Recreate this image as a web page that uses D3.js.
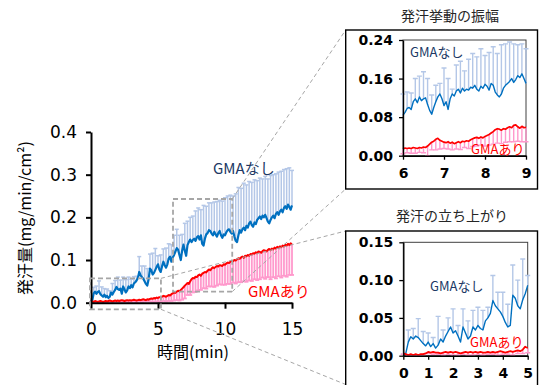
<!DOCTYPE html>
<html>
<head>
<meta charset="utf-8">
<script src="https://cdn.jsdelivr.net/npm/d3@7"></script>
<style>
  body { margin: 0; background: #fff; }
  text { font-family: "Noto Sans CJK JP", "Noto Sans", sans-serif; }
</style>
</head>
<body>
<div id="chart"></div>
<script>
// ---- main chart: 0-15 min, mean every 0.1 min, SD every 0.2 min ----
const mainStep = 0.1;
const mainErrStep = 0.2;
const mainTicksX = [0, 5, 10, 15];
const mainTicksY = [0, 0.1, 0.2, 0.3, 0.4];

const mainNoGma = [
  0.002, 0.006, 0.022, 0.026, 0.021, 0.025, 0.027, 0.020, 0.017, 0.014,
  0.019, 0.013, 0.016, 0.011, 0.014, 0.024, 0.019, 0.025, 0.030, 0.037,
  0.032, 0.030, 0.033, 0.021, 0.038, 0.031, 0.024, 0.029, 0.038, 0.034,
  0.041, 0.036, 0.045, 0.048, 0.052, 0.058, 0.072, 0.064, 0.060, 0.056,
  0.050, 0.044, 0.040, 0.055, 0.080, 0.076, 0.066, 0.070, 0.077, 0.084,
  0.090, 0.078, 0.072, 0.085, 0.096, 0.088, 0.082, 0.090, 0.104, 0.108,
  0.096, 0.106, 0.112, 0.120, 0.128, 0.124, 0.112, 0.100, 0.122, 0.136,
  0.122, 0.110, 0.135, 0.142, 0.148, 0.142, 0.147, 0.150, 0.145, 0.153,
  0.156, 0.148, 0.158, 0.138, 0.134, 0.150, 0.160, 0.163, 0.170, 0.168,
  0.162, 0.158, 0.166, 0.160, 0.155, 0.163, 0.168, 0.158, 0.152, 0.160,
  0.158, 0.165, 0.170, 0.172, 0.166, 0.162, 0.168, 0.155, 0.145, 0.142,
  0.158, 0.170, 0.164, 0.172, 0.176, 0.170, 0.180, 0.176, 0.186, 0.190,
  0.182, 0.178, 0.188, 0.184, 0.194, 0.198, 0.202, 0.196, 0.204, 0.200,
  0.206, 0.198, 0.190, 0.186, 0.194, 0.200, 0.204, 0.198, 0.208, 0.212,
  0.206, 0.214, 0.218, 0.212, 0.222, 0.226, 0.220, 0.230, 0.224, 0.218,
  0.228
];
const mainNoGmaSd = [
  0.000, 0.014, 0.018, 0.024, 0.020, 0.014, 0.016, 0.014, 0.026, 0.022,
  0.028, 0.020, 0.022, 0.030, 0.022, 0.014, 0.016, 0.010, 0.036, 0.026,
  0.036, 0.040, 0.034, 0.050, 0.050, 0.020, 0.040, 0.030, 0.046, 0.034,
  0.040, 0.046, 0.044, 0.046, 0.038, 0.064, 0.056, 0.052, 0.056, 0.070,
  0.066, 0.060, 0.094, 0.066, 0.064, 0.072, 0.070, 0.082, 0.072, 0.086,
  0.088, 0.080, 0.086, 0.082, 0.110, 0.112, 0.104, 0.104, 0.096, 0.098,
  0.100, 0.100, 0.092, 0.090, 0.086, 0.090, 0.100, 0.104, 0.096, 0.094,
  0.100, 0.090, 0.090, 0.094, 0.092, 0.082
];
const mainGma = [
  0.002, 0.003, 0.002, 0.004, 0.003, 0.002, 0.003, 0.004, 0.003, 0.002,
  0.003, 0.004, 0.003, 0.004, 0.005, 0.004, 0.003, 0.004, 0.005, 0.004,
  0.005, 0.004, 0.005, 0.006, 0.005, 0.004, 0.005, 0.006, 0.005, 0.006,
  0.005, 0.006, 0.007, 0.006, 0.005, 0.006, 0.007, 0.006, 0.007, 0.008,
  0.007, 0.006, 0.008, 0.007, 0.009, 0.010, 0.009, 0.011, 0.010, 0.012,
  0.011, 0.013, 0.012, 0.014, 0.016, 0.015, 0.014, 0.016, 0.018, 0.017,
  0.020, 0.022, 0.024, 0.023, 0.026, 0.028, 0.027, 0.030, 0.033, 0.036,
  0.040, 0.043, 0.046, 0.044, 0.050, 0.055, 0.058, 0.057, 0.061, 0.060,
  0.064, 0.066, 0.063, 0.068, 0.070, 0.072, 0.071, 0.075, 0.078, 0.076,
  0.080, 0.083, 0.081, 0.084, 0.086, 0.085, 0.088, 0.087, 0.086, 0.090,
  0.089, 0.092, 0.094, 0.093, 0.096, 0.098, 0.097, 0.100, 0.099, 0.102,
  0.104, 0.103, 0.106, 0.108, 0.105, 0.110, 0.109, 0.112, 0.110, 0.114,
  0.113, 0.116, 0.115, 0.118, 0.116, 0.120, 0.119, 0.117, 0.121, 0.123,
  0.122, 0.120, 0.124, 0.126, 0.123, 0.127, 0.125, 0.129, 0.127, 0.131,
  0.129, 0.132, 0.130, 0.134, 0.132, 0.136, 0.134, 0.138, 0.135, 0.139,
  0.137
];
const mainGmaSd = [
  0.001, 0.002, 0.002, 0.002, 0.002, 0.002, 0.003, 0.003, 0.002, 0.003,
  0.003, 0.003, 0.003, 0.003, 0.004, 0.003, 0.004, 0.004, 0.004, 0.005,
  0.004, 0.005, 0.006, 0.007, 0.008, 0.008, 0.010, 0.012, 0.011, 0.014,
  0.016, 0.019, 0.020, 0.022, 0.026, 0.030, 0.028, 0.032, 0.034, 0.036,
  0.035, 0.033, 0.036, 0.038, 0.040, 0.042, 0.044, 0.046, 0.045, 0.044,
  0.047, 0.050, 0.052, 0.050, 0.054, 0.056, 0.058, 0.055, 0.060, 0.058,
  0.062, 0.060, 0.063, 0.064, 0.062, 0.066, 0.064, 0.068, 0.065, 0.070,
  0.067, 0.071, 0.069, 0.073, 0.070, 0.072
];

// ---- inset 1 (発汗挙動の振幅): 6-9 min, mean every 0.05 min, SD every 0.1 min ----
const ampStart = 6;
const ampStep = 0.05;
const ampErrStep = 0.1;
const ampTicksX = [6, 7, 8, 9];
const ampTicksY = [0, 0.08, 0.16, 0.24];
const ampNoGma = [
  0.084, 0.090, 0.098, 0.100, 0.096, 0.112, 0.118, 0.110, 0.122, 0.114,
  0.118, 0.120, 0.106, 0.094, 0.086, 0.100, 0.112, 0.122, 0.128, 0.118,
  0.104, 0.112, 0.096, 0.118, 0.128, 0.124, 0.134, 0.138, 0.130, 0.140,
  0.134, 0.138, 0.136, 0.142, 0.140, 0.146, 0.138, 0.134, 0.144, 0.140,
  0.148, 0.144, 0.136, 0.150, 0.146, 0.132, 0.126, 0.122, 0.128, 0.140,
  0.146, 0.150, 0.154, 0.160, 0.152, 0.158, 0.166, 0.162, 0.170, 0.160,
  0.150
];
const ampNoGmaSd = [
  0.044, 0.034, 0.034, 0.042, 0.043, 0.056, 0.054, 0.040, 0.034, 0.022,
  0.078, 0.064, 0.010, 0.054, 0.066, 0.042, 0.064, 0.072, 0.067, 0.078,
  0.060, 0.078, 0.080, 0.086, 0.102, 0.086, 0.082, 0.080, 0.064, 0.062,
  0.072
];
const ampGma = [
  0.014, 0.016, 0.015, 0.016, 0.015, 0.017, 0.016, 0.015, 0.017, 0.016,
  0.018, 0.017, 0.020, 0.024, 0.028, 0.030, 0.034, 0.036, 0.032, 0.030,
  0.028, 0.027, 0.029, 0.026, 0.028, 0.025, 0.027, 0.029, 0.027, 0.030,
  0.029, 0.031, 0.030, 0.033, 0.035, 0.037, 0.038, 0.036, 0.039, 0.037,
  0.040, 0.042, 0.044, 0.047, 0.050, 0.054, 0.056, 0.055, 0.053, 0.056,
  0.055, 0.058, 0.060, 0.058, 0.063, 0.064, 0.060, 0.057, 0.061, 0.058,
  0.059
];
const ampGmaSd = [
  0.010, 0.009, 0.010, 0.011, 0.010, 0.012, 0.020, 0.016, 0.022, 0.018,
  0.013, 0.015, 0.016, 0.013, 0.014, 0.012, 0.015, 0.016, 0.018, 0.017,
  0.020, 0.022, 0.026, 0.030, 0.028, 0.027, 0.031, 0.034, 0.030, 0.032,
  0.030
];

// ---- inset 2 (発汗の立ち上がり): 0-5 min, mean every 0.1 min, SD every 0.2 min ----
const riseStart = 0;
const riseStep = 0.1;
const riseErrStep = 0.2;
const riseTicksX = [0, 1, 2, 3, 4, 5];
const riseTicksY = [0, 0.05, 0.10, 0.15];
const riseNoGma = [
  0.001, 0.003, 0.018, 0.025, 0.022, 0.026, 0.024, 0.020, 0.016, 0.013,
  0.018, 0.012, 0.016, 0.010, 0.014, 0.022, 0.018, 0.026, 0.032, 0.038,
  0.030, 0.033, 0.026, 0.018, 0.038, 0.030, 0.022, 0.026, 0.038, 0.034,
  0.040, 0.036, 0.034, 0.046, 0.050, 0.056, 0.073, 0.066, 0.062, 0.058,
  0.052, 0.044, 0.038, 0.040, 0.080, 0.076, 0.066, 0.062, 0.074, 0.082,
  0.093
];
const riseNoGmaSd = [
  0.001, 0.016, 0.014, 0.025, 0.016, 0.012, 0.008, 0.038, 0.016, 0.018,
  0.032, 0.014, 0.024, 0.024, 0.022, 0.024, 0.026, 0.014, 0.033, 0.022,
  0.032, 0.030, 0.040, 0.034, 0.054, 0.013
];
const riseGma = [
  0.003, 0.002, 0.001, 0.002, 0.001, 0.002, 0.001, 0.002, 0.002, 0.003,
  0.005, 0.004, 0.005, 0.004, 0.004, 0.003, 0.004, 0.005, 0.004, 0.005,
  0.004, 0.005, 0.004, 0.003, 0.004, 0.005, 0.004, 0.005, 0.004, 0.005,
  0.004, 0.005, 0.004, 0.004, 0.005, 0.004, 0.005, 0.004, 0.005, 0.006,
  0.005, 0.004, 0.005, 0.006, 0.005, 0.006, 0.007, 0.006, 0.008, 0.012,
  0.010
];
const riseGmaSd = [
  0.001, 0.001, 0.001, 0.001, 0.001, 0.002, 0.003, 0.002, 0.003, 0.002,
  0.003, 0.003, 0.002, 0.003, 0.003, 0.002, 0.003, 0.003, 0.003, 0.004,
  0.003, 0.003, 0.004, 0.004, 0.005, 0.006
];

const BLUE = '#0070c0';
const BLUE_BAR = '#b4c7e7';
const RED = '#ff0000';
const PINK_BAR = '#ff99cc';
const NAVY = '#203864';
const GRID_GRAY = '#a6a6a6';

const W = 539, H = 385;
d3.select('#chart').select('svg').remove();
const svg = d3.select('#chart').append('svg')
  .attr('width', W)
  .attr('height', H)
  .attr('viewBox', `0 0 ${W} ${H}`);

// error bars: dir = +1 draws mean -> mean+sd, -1 draws mean -> mean-sd
function drawBars(g, x, y, t0, step, errStep, mean, sd, dir, color, width, cap) {
  const ratio = Math.round(errStep / step);
  const bars = sd.map((s, j) => ({ t: t0 + j * errStep, m: mean[j * ratio], e: mean[j * ratio] + dir * s }));
  const bg = g.append('g').attr('stroke', color).attr('stroke-width', width);
  bg.selectAll('line.v').data(bars).join('line')
    .attr('class', 'v')
    .attr('x1', d => x(d.t)).attr('x2', d => x(d.t))
    .attr('y1', d => y(d.m)).attr('y2', d => y(d.e));
  bg.selectAll('line.c').data(bars).join('line')
    .attr('class', 'c')
    .attr('x1', d => x(d.t) - cap).attr('x2', d => x(d.t) + cap)
    .attr('y1', d => y(d.e)).attr('y2', d => y(d.e));
}

function drawLine(g, x, y, t0, step, mean, color, width) {
  const line = d3.line()
    .x((d, i) => x(t0 + i * step))
    .y(d => y(d));
  g.append('path')
    .datum(mean)
    .attr('fill', 'none')
    .attr('stroke', color)
    .attr('stroke-width', width)
    .attr('stroke-linejoin', 'round')
    .attr('d', line);
}

/**
 * main chart
 * */
const mx = d3.scaleLinear().domain([0, 15]).range([91, 292]);
const my = d3.scaleLinear().domain([0, 0.4]).range([302.7, 132]);
const mg = svg.append('g');

drawBars(mg, mx, my, 0, mainStep, mainErrStep, mainNoGma, mainNoGmaSd, 1, BLUE_BAR, 1.5, 2);
drawBars(mg, mx, my, 0, mainStep, mainErrStep, mainGma, mainGmaSd, -1, PINK_BAR, 1.8, 2);
drawLine(mg, mx, my, 0, mainStep, mainNoGma, BLUE, 2.2);
drawLine(mg, mx, my, 0, mainStep, mainGma, RED, 2);

const myAxis = mg.append('g')
  .attr('transform', 'translate(91,0)')
  .call(d3.axisLeft(my).tickValues(mainTicksY).tickFormat(d3.format('.1f')).tickSize(5).tickSizeOuter(0).tickPadding(9));
const mxAxis = mg.append('g')
  .attr('transform', 'translate(0,302.7)')
  .call(d3.axisBottom(mx).tickValues(mainTicksX).tickSize(6).tickSizeOuter(0).tickPadding(14));
[myAxis, mxAxis].forEach(a => {
  a.select('.domain').attr('stroke', '#000').attr('stroke-width', 2);
  a.selectAll('.tick line').attr('stroke', '#000').attr('stroke-width', 2);
  a.selectAll('.tick text')
    .style('font-family', '"DejaVu Sans", sans-serif')
    .style('font-size', '17px')
    .attr('fill', '#000');
});

svg.append('text')
  .attr('x', 193).attr('y', 358)
  .attr('text-anchor', 'middle')
  .style('font-size', '16px')
  .attr('fill', '#000')
  .text('時間(min)');
svg.append('text')
  .attr('transform', 'translate(31,218) rotate(-90)')
  .attr('text-anchor', 'middle')
  .style('font-size', '16px')
  .attr('fill', '#000')
  .text('発汗量(mg/min/cm²)');

svg.append('text').attr('x', 213).attr('y', 174)
  .style('font-size', '15px').attr('fill', NAVY).text('GMAなし');
svg.append('text').attr('x', 248).attr('y', 297)
  .style('font-size', '15px').attr('fill', RED).text('GMAあり');

// zoom boxes in data units of the main chart
const boxRise = { x0: -0.075, x1: 5.22, y0: -0.0155, y1: 0.057 };
const boxAmp = { x0: 6.12, x1: 10.54, y0: 0.026, y1: 0.243 };
[boxRise, boxAmp].forEach(b => {
  svg.append('rect')
    .attr('x', mx(b.x0)).attr('y', my(b.y1))
    .attr('width', mx(b.x1) - mx(b.x0)).attr('height', my(b.y0) - my(b.y1))
    .attr('fill', 'none')
    .attr('stroke', GRID_GRAY)
    .attr('stroke-width', 1.8)
    .attr('stroke-dasharray', '5,3');
});

// inset frames
const frameAmp = { x: 345.7, y: 30, w: 191.8, h: 159 };
const frameRise = { x: 345.7, y: 231, w: 191.8, h: 160 };

const connectors = [
  [mx(boxAmp.x1), my(boxAmp.y1), frameAmp.x, frameAmp.y],
  [mx(boxAmp.x1), my(boxAmp.y0), frameAmp.x, frameAmp.y + frameAmp.h],
  [mx(boxRise.x1), my(boxRise.y1), frameRise.x, frameRise.y],
  [mx(boxRise.x1), my(boxRise.y0), frameRise.x, 384.5]
];
svg.append('g').selectAll('line').data(connectors).join('line')
  .attr('x1', d => d[0]).attr('y1', d => d[1])
  .attr('x2', d => d[2]).attr('y2', d => d[3])
  .attr('stroke', GRID_GRAY)
  .attr('stroke-width', 1)
  .attr('stroke-dasharray', '4,3');

[frameAmp, frameRise].forEach(f => {
  svg.append('rect')
    .attr('x', f.x).attr('y', f.y).attr('width', f.w).attr('height', f.h)
    .attr('fill', '#fff')
    .attr('stroke', '#000')
    .attr('stroke-width', 1.4);
});

/**
 * inset panel
 * */
function drawInset(cfg) {
  const x = d3.scaleLinear().domain(cfg.xDomain).range([cfg.left, cfg.right]);
  const y = d3.scaleLinear().domain(cfg.yDomain).range([cfg.bottom, cfg.top]);
  const g = svg.append('g');

  g.append('rect')
    .attr('x', cfg.left).attr('y', cfg.top)
    .attr('width', cfg.right - cfg.left).attr('height', cfg.bottom - cfg.top)
    .attr('fill', 'none')
    .attr('stroke', '#404040')
    .attr('stroke-width', 1);

  const clipId = 'clip-' + cfg.id;
  g.append('clipPath').attr('id', clipId).append('rect')
    .attr('x', cfg.left - 4).attr('y', cfg.top - 4)
    .attr('width', cfg.right - cfg.left + 8).attr('height', cfg.bottom - cfg.top + 4);
  const pg = g.append('g').attr('clip-path', `url(#${clipId})`);

  drawBars(pg, x, y, cfg.t0, cfg.step, cfg.errStep, cfg.noGma, cfg.noGmaSd, 1, BLUE_BAR, 1.4, 2.5);
  drawBars(pg, x, y, cfg.t0, cfg.step, cfg.errStep, cfg.gma, cfg.gmaSd, -1, PINK_BAR, 1.4, 2.5);
  drawLine(pg, x, y, cfg.t0, cfg.step, cfg.noGma, BLUE, 1.4);
  drawLine(pg, x, y, cfg.t0, cfg.step, cfg.gma, RED, 1.7);

  const ya = g.append('g')
    .attr('transform', `translate(${cfg.left},0)`)
    .call(d3.axisLeft(y).tickValues(cfg.ticksY).tickFormat(d3.format('.2f')).tickSize(4).tickSizeOuter(0).tickPadding(6));
  const xa = g.append('g')
    .attr('transform', `translate(0,${cfg.bottom})`)
    .call(d3.axisBottom(x).tickValues(cfg.ticksX).tickFormat(d3.format('d')).tickSize(4).tickSizeOuter(0).tickPadding(8));
  [ya, xa].forEach(a => {
    a.select('.domain').attr('stroke', '#000').attr('stroke-width', 1.4);
    a.selectAll('.tick line').attr('stroke', '#000').attr('stroke-width', 1.3);
    a.selectAll('.tick text')
      .style('font-family', '"DejaVu Sans", sans-serif')
      .style('font-size', '14px')
      .style('font-weight', 'bold')
      .attr('fill', '#000');
  });

  svg.append('text')
    .attr('x', cfg.titleX).attr('y', cfg.titleY)
    .attr('text-anchor', 'middle')
    .style('font-size', '14px')
    .attr('fill', '#262626')
    .text(cfg.title);
  svg.append('text').attr('x', cfg.noGmaLabel[0]).attr('y', cfg.noGmaLabel[1])
    .style('font-size', '13px').attr('fill', NAVY).text('GMAなし');
  svg.append('text').attr('x', cfg.gmaLabel[0]).attr('y', cfg.gmaLabel[1])
    .style('font-size', '13px').attr('fill', RED).text('GMAあり');
}

drawInset({
  id: 'amp', title: '発汗挙動の振幅', titleX: 450, titleY: 21,
  left: 403, right: 526, top: 40, bottom: 155.7,
  xDomain: [6, 9], yDomain: [0, 0.24], ticksX: ampTicksX, ticksY: ampTicksY,
  t0: ampStart, step: ampStep, errStep: ampErrStep,
  noGma: ampNoGma, noGmaSd: ampNoGmaSd, gma: ampGma, gmaSd: ampGmaSd,
  noGmaLabel: [410, 57], gmaLabel: [471, 154]
});
drawInset({
  id: 'rise', title: '発汗の立ち上がり', titleX: 452, titleY: 221,
  left: 403.3, right: 527.7, top: 242.3, bottom: 355.7,
  xDomain: [0, 5], yDomain: [0, 0.15], ticksX: riseTicksX, ticksY: riseTicksY,
  t0: riseStart, step: riseStep, errStep: riseErrStep,
  noGma: riseNoGma, noGmaSd: riseNoGmaSd, gma: riseGma, gmaSd: riseGmaSd,
  noGmaLabel: [430, 291], gmaLabel: [470, 347]
});
</script>
</body>
</html>
